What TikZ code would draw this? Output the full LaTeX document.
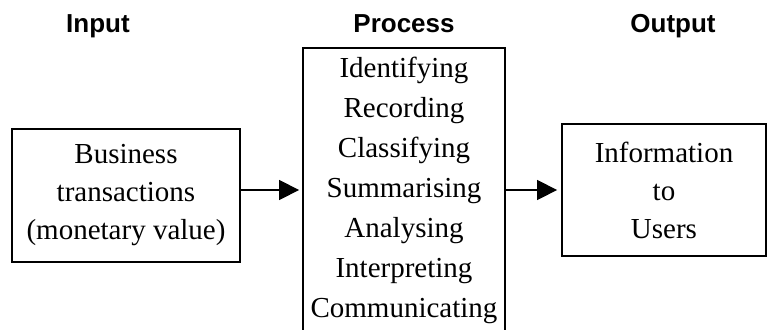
\documentclass[tikz,border=0pt]{standalone}
\usepackage{fontspec}
\setmainfont{Liberation Serif}
\setsansfont{Liberation Sans}
\usetikzlibrary{arrows.meta}
\begin{document}
\begin{tikzpicture}[x=1pt,y=-1pt,
		head/.style={font=\sffamily\bfseries\fontsize{26}{30}\selectfont,anchor=base},
		box/.style={draw,line width=1.8pt,inner sep=0pt,align=center,font=\fontsize{29}{38}\selectfont},
		flow/.style={line width=1.3pt,-{Triangle[length=20pt,width=20pt]}}]
		\clip (0,0) rectangle (767,329);
		% headings
		\node[head] (inlab) at (98,33) {Input};
		\node[head] (proclab) at (404,33) {Process};
		\node[head] (outlab) at (673,33) {Output};
		% boxes
		\node[box,minimum width=228pt,minimum height=133pt] (inbox) at (126,195.5) {Business\\transactions\\(monetary value)};
		\node[box,minimum width=202pt,minimum height=284pt,font=\fontsize{29}{40}\selectfont] (proc) at (404,190) {Identifying\\Recording\\Classifying\\Summarising\\Analysing\\Interpreting\\Communicating};
		\node[box,minimum width=204pt,minimum height=132pt] (outbox) at (664,190) {Information\\to\\Users};
		% arrows
		\draw[flow,shorten >=3pt] (inbox.east |- proc.west) -- (proc.west);
		\draw[flow,shorten >=4pt] (proc.east) -- (outbox.west);
		\end{tikzpicture}
\end{document}
